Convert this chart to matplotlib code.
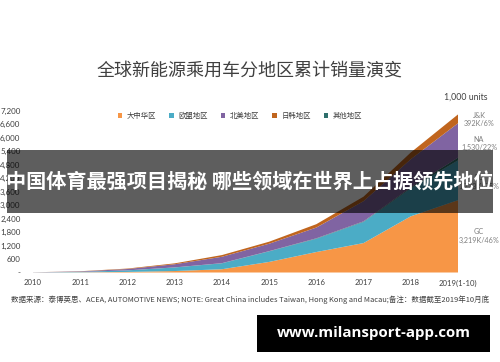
import matplotlib
matplotlib.use("Agg")
import matplotlib.pyplot as plt
from matplotlib.patches import Rectangle
import numpy as np

plt.rcParams['font.family'] = ['Noto Sans CJK SC', 'DejaVu Sans']

years = ["2010", "2011", "2012", "2013", "2014", "2015", "2016", "2017", "2018", "2019(1-10)"]
gc = [2, 8, 25, 65, 145, 470, 910, 1310, 2500, 3219]
eu = [3, 19, 68, 158, 262, 470, 590, 940, 1250, 1773]
others = [0, 1, 2, 4, 8, 10, 20, 25, 40, 120]
na = [3, 20, 60, 140, 285, 330, 480, 900, 1250, 1530]
jk = [1, 8, 20, 40, 75, 90, 150, 200, 300, 392]
series_names = ["大中华区", "欧盟地区", "其他地区", "北美地区", "日韩地区"]
legend_order = ["大中华区", "欧盟地区", "北美地区", "日韩地区", "其他地区"]
colors = ["#F79646", "#4BACC6", "#2E6F6C", "#8064A2", "#C0651E"]
yticks = [0, 600, 1200, 1800, 2400, 3000, 3600, 4200, 4800, 5400, 6000, 6600, 7200]
ytick_labels = ["-"] + [f"{v:,}" for v in yticks[1:]]
right_labels = [("J&K", "392K/6%", 115), ("NA", "1,530/22%", 139), ("EU", "1,773K/25%", 178), ("GC", "3,219K/46%", 232)]

W, H = 500, 362
fig = plt.figure(figsize=(W / 100, H / 100), dpi=100)
fig.patch.set_facecolor("white")

def fx(px):
    return px / W

def fy(py):
    return (H - py) / H

ax = fig.add_axes([fx(33), fy(272.5), fx(458) - fx(33), fy(110.7) - fy(272.5)])
x = np.arange(len(years))
polys = ax.stackplot(x, gc, eu, others, na, jk, colors=colors, labels=series_names, linewidth=0)
ax.set_xlim(0, len(years) - 1)
ax.set_ylim(0, 7200)
ax.set_yticks(yticks)
ax.set_yticklabels(ytick_labels, fontsize=5.8, color="#404040", family=["Lato", "DejaVu Sans"])
ax.set_xticks(x)
ax.set_xticklabels(years, fontsize=5.6, color="#404040", family=["Lato", "DejaVu Sans"])
ax.tick_params(length=0, pad=5)
ax.tick_params(axis="y", pad=9)
for s in ax.spines.values():
    s.set_visible(False)
ax.set_facecolor("none")

handles = {p.get_label(): p for p in polys}
leg = ax.legend([handles[n] for n in legend_order], legend_order, ncol=5, frameon=False,
                loc="center", bbox_to_anchor=((fx(240) - fx(33)) / (fx(458) - fx(33)), (fy(116) - fy(272.5)) / (fy(110.7) - fy(272.5))),
                fontsize=5.3, handlelength=0.6, handleheight=0.6, columnspacing=1.8, handletextpad=0.6,
                borderaxespad=0)
for t in leg.get_texts():
    t.set_color("#404040")

fig.text(0.5, fy(72), "全球新能源乘用车分地区累计销量演变", ha="center", va="center",
         fontsize=13, color="#404040")
fig.text(fx(466), fy(97), "1,000 units", ha="center", va="center", fontsize=6.3, color="#404040",
         family=["Lato", "DejaVu Sans"])
for name, val, py in right_labels:
    fig.text(fx(479), fy(py), name, ha="center", va="center", fontsize=5.2, color="#7F7F7F",
             family=["Lato", "DejaVu Sans"])
    fig.text(fx(479), fy(py + 8), val, ha="center", va="center", fontsize=5.2, color="#7F7F7F",
             family=["Lato", "DejaVu Sans"])

fig.text(0.5, fy(300), "数据来源：泰博英思、ACEA, AUTOMOTIVE NEWS; NOTE: Great China includes Taiwan, Hong Kong and Macau;备注：数据截至2019年10月底",
         ha="center", va="center", fontsize=5.4, color="#404040")

fig.add_artist(Rectangle((fx(7), fy(213)), fx(493) - fx(7), fy(150) - fy(213), transform=fig.transFigure,
                         facecolor="black", alpha=0.63, edgecolor="none", zorder=10))
fig.text(0.5, fy(182), "中国体育最强项目揭秘 哪些领域在世界上占据领先地位", ha="center", va="center",
         fontsize=14.5, color="white", fontweight="bold", zorder=11)

fig.add_artist(Rectangle((fx(257), fy(352)), fx(490) - fx(257), fy(315) - fy(352), transform=fig.transFigure,
                         facecolor="black", edgecolor="none", zorder=10))
fig.text(fx(373.5), fy(333.5), "www.milansport-app.com", ha="center", va="center", fontsize=10.8,
         color="white", fontweight="bold", family=["Open Sans", "DejaVu Sans"], zorder=11)

fig.savefig("out.png", dpi=100, facecolor="white")
